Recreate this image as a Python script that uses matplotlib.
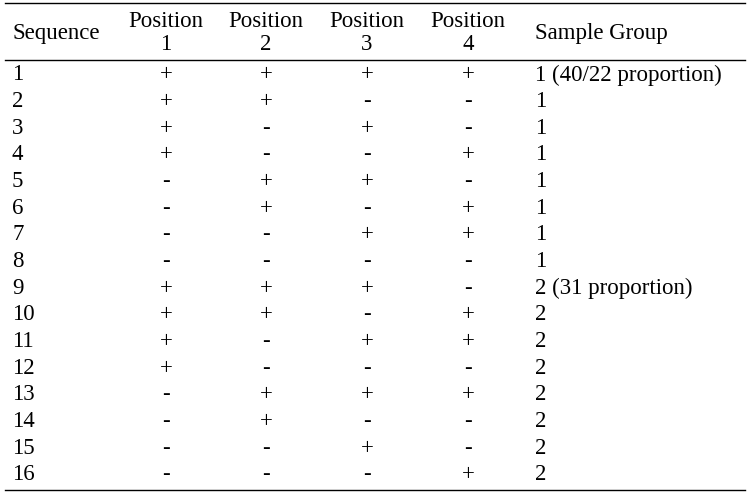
import matplotlib
matplotlib.use("Agg")
import matplotlib.pyplot as plt

sequences = [str(i) for i in range(1, 17)]
pos1 = ["+", "+", "+", "+", "-", "-", "-", "-", "+", "+", "+", "+", "-", "-", "-", "-"]
pos2 = ["+", "+", "-", "-", "+", "+", "-", "-", "+", "+", "-", "-", "+", "+", "-", "-"]
pos3 = ["+", "-", "+", "-", "+", "-", "+", "-", "+", "-", "+", "-", "+", "-", "+", "-"]
pos4 = ["+", "-", "-", "+", "-", "+", "+", "-", "-", "+", "+", "-", "+", "-", "-", "+"]
groups = ["1 (40/22 proportion)"] + ["1"] * 7 + ["2 (31 proportion)"] + ["2"] * 7
headers = ["Sequence", "Position\n1", "Position\n2", "Position\n3", "Position\n4", "Sample Group"]

plt.rcParams["font.family"] = ["Liberation Serif", "DejaVu Serif"]
W, H = 750, 495
fig = plt.figure(figsize=(7.5, 4.95), dpi=100)
ax = fig.add_axes([0, 0, 1, 1])
ax.set_xlim(0, W); ax.set_ylim(H, 0); ax.axis("off")
fs = 16.5

pos_x = [166, 266, 367, 468]
ax.text(12, 33, headers[0], fontsize=fs, va="center", ha="left")
for x, h in zip(pos_x, headers[1:5]):
    ax.text(x, 33, h, fontsize=fs, va="center", ha="center", linespacing=1.15)
ax.text(535, 33, headers[5], fontsize=fs, va="center", ha="left")

ax.plot([5, 745], [3, 3], color="black", lw=1)
ax.plot([5, 745], [60, 60], color="black", lw=1)
ax.plot([5, 745], [490, 490], color="black", lw=1)

y0, dy = 75, 26.65
cols = [pos1, pos2, pos3, pos4]
for i in range(16):
    y = y0 + i * dy
    ax.text(12, y, sequences[i], fontsize=fs, va="center", ha="left")
    for x, c in zip(pos_x, cols):
        ax.text(x, y, c[i], fontsize=fs, va="center", ha="center")
    ax.text(535, y, groups[i], fontsize=fs, va="center", ha="left")

fig.savefig("out.png", dpi=100)
